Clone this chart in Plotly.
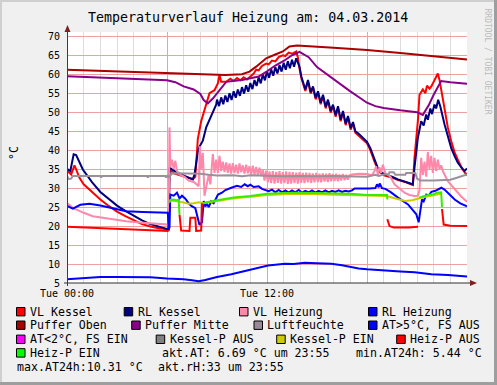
import plotly.graph_objects as go

# ---------------- data (hour of day, value) ----------------
VL_KESSEL = [(0,34.6),(0.25,33.6),(0.45,36.0),(0.75,32.7),(1.0,31.0),(1.5,29.0),(2.0,27.0),(2.5,25.3),(3.0,23.8),(3.5,22.6),(4.0,21.5),(4.5,20.5),(5.0,19.9),(5.5,19.4),(6.1,19.1),
    (6.15,34.8),(6.45,33.8),(7.05,33.0),(7.55,32.4),(7.7,33.0),(7.85,43.0),(8.05,47.6),(8.25,50.6),(8.55,55.0),(8.85,55.8),(9.05,57.6),(9.15,59.8),(9.25,58.0),(9.55,58.0),(9.8,58.8),(10.0,58.2),(10.2,59.0),(10.4,58.4),(10.6,59.2),(10.8,58.6),(11.0,59.4),(11.2,60.2),(11.35,61.2),(11.5,61.0),(11.7,62.2),(11.95,62.8),(12.1,62.6),(12.3,63.6),(12.5,63.4),(12.7,64.5),(12.95,65.0),(13.1,64.8),(13.3,65.7),(13.5,65.4),(13.75,66.0),(13.85,64.5),(13.95,61.5),(14.06,59.0),
    (14.3,55.6),(14.46,58.1),(14.62,54.9),(14.76,56.4),(14.92,53.4),(15.06,55.1),(15.22,52.1),(15.36,54.2),(15.52,51.0),(15.66,52.9),(15.82,49.9),(15.96,51.6),(16.12,48.8),(16.26,51.2),(16.42,47.6),(16.56,49.9),(16.72,46.6),(16.86,48.6),(17.02,45.4),(17.16,47.0),(17.3,44.6),(17.5,43.9),(17.8,42.6),(18.0,41.8),(18.2,40.0),(18.45,37.0),(18.7,34.4),(19.06,33.3),(19.5,32.8),(19.86,32.1),(20.3,31.6),(20.75,30.8),
    (20.85,38.0),(21.05,47.6),(21.15,54.6),(21.35,56.0),(21.5,55.0),(21.6,57.0),(21.75,56.2),(21.86,56.8),(22.0,58.0),(22.15,59.5),(22.25,60.2),(22.35,58.5),(22.45,56.0),(22.65,50.3),(22.85,46.0),(23.05,42.4),(23.25,39.5),(23.45,37.5),(23.7,35.2),(23.95,33.6),(24.0,34.0)]

RL_KESSEL = [(0,35.1),(0.2,34.5),(0.4,38.9),(0.55,38.7),(0.95,34.9),(1.5,31.6),(2.0,29.0),(2.5,27.2),(3.0,25.4),(3.5,24.0),(4.0,22.7),(4.5,21.5),(5.0,20.5),(5.5,19.8),(6.1,19.1),
    (6.15,35.4),(6.45,34.5),(7.05,33.2),(7.55,32.3),(7.65,33.6),(7.85,39.5),(7.96,41.0),(8.15,42.5),(8.35,46.0),(8.65,48.8),(8.95,52.0),
    (9.0,53.3),(9.125,51.6),(9.25,53.9),(9.375,52.1),(9.5,54.4),(9.625,52.7),(9.75,55.0),(9.875,53.2),(10.0,55.5),(10.125,53.8),(10.25,56.0),(10.375,54.3),(10.5,56.6),(10.625,54.9),(10.75,57.1),(10.875,55.4),(11.0,57.7),(11.125,56.1),(11.25,58.5),(11.375,56.9),(11.5,59.2),(11.625,57.6),(11.75,60.0),(11.875,58.4),(12.0,60.8),(12.125,59.1),(12.25,61.3),(12.375,59.6),(12.5,61.9),(12.625,60.2),(12.75,62.4),(12.875,60.7),(13.0,63.0),(13.125,61.2),(13.25,63.4),(13.375,61.6),(13.5,63.8),(13.625,62.0),(13.75,64.2),(13.875,62.8),(13.95,62.0),(14.06,59.4),
    (14.3,56.0),(14.46,58.5),(14.62,55.3),(14.76,56.8),(14.92,53.8),(15.06,55.5),(15.22,52.5),(15.36,54.6),(15.52,51.4),(15.66,53.3),(15.82,50.3),(15.96,52.0),(16.12,49.2),(16.26,51.6),(16.42,48.0),(16.56,50.3),(16.72,47.0),(16.86,49.0),(17.02,45.8),(17.16,47.4),(17.3,45.0),(17.5,44.3),(17.8,43.0),(18.0,42.2),(18.2,40.5),(18.45,37.4),(18.7,34.7),(19.06,33.6),(19.5,33.0),(19.86,32.3),(20.3,31.7),(20.75,31.0),
    (20.85,35.4),(21.05,43.2),(21.25,47.6),(21.4,46.5),(21.55,49.4),(21.65,48.0),(21.8,51.0),(21.9,49.5),(22.05,52.0),(22.15,51.0),(22.27,53.3),(22.4,51.5),(22.65,46.8),(22.85,43.5),(23.05,40.6),(23.25,38.5),(23.45,36.7),(23.65,35.5),(23.85,34.5),(24.0,35.2)]

VL_HEIZUNG = [(0,26.1),(0.35,24.8),(1.0,23.5),(1.55,22.6),(2.55,21.9),(3.55,21.3),(4.55,20.9),(6.1,20.4),(6.15,46.0),(6.2,35.5),(6.3,37.5),(6.4,35.0),(6.5,37.2),(6.6,34.5),(6.75,33.6),(7.05,33.0),(7.3,32.0),(7.65,31.5),(7.9,30.5),(7.97,41.0),(8.05,35.0),(8.15,39.3),(8.25,28.0),(8.35,30.0),(8.5,33.5),(8.6,31.0),(8.75,39.0),(8.85,34.0),(8.95,37.5),
    (9.05,34.0),(9.15,38.5),(9.25,34.5),(9.35,37.0),(9.45,34.2),(9.55,36.8),(9.65,34.0),(9.75,36.5),(9.85,33.8),(9.95,36.6),(10.05,34.0),(10.15,36.2),(10.25,33.8),(10.35,36.5),(10.45,34.2),(10.55,36.0),(10.65,33.8),(10.75,36.2),(10.85,33.9),(10.95,35.8),(11.05,33.6),(11.15,35.9),(11.25,33.5),(11.35,35.6),(11.45,33.4),(11.55,35.4),(11.65,33.2),(11.75,35.0),
    (11.85,32.0),(11.95,34.6),(12.05,31.5),(12.15,34.4),(12.25,31.3),(12.35,34.5),(12.45,31.2),(12.55,34.3),(12.65,31.4),(12.75,34.5),(12.85,31.2),(12.95,34.2),(13.05,31.3),(13.15,34.4),(13.25,31.1),(13.35,34.3),(13.45,31.2),(13.55,34.2),(13.65,31.3),(13.75,34.1),(13.85,31.2),(13.95,34.2),(14.05,31.4),(14.15,34.0),(14.25,31.3),(14.35,34.1),(14.45,31.5),(14.55,34.0),(14.65,31.4),(14.75,33.9),(14.85,31.5),(14.95,34.0),(15.05,31.6),(15.15,33.8),(15.25,31.5),(15.35,33.9),(15.45,31.7),(15.55,33.8),(15.65,31.6),(15.75,33.9),(15.85,31.8),(15.95,33.7),(16.05,31.9),(16.15,33.8),(16.25,31.8),(16.35,33.6),(16.45,32.0),(16.55,33.7),(16.65,32.1),(16.75,33.5),(16.85,32.2),(16.95,33.4),
    (17.1,33.6),(17.5,33.8),(18.0,33.7),(18.3,33.4),(18.45,34.5),(18.55,35.8),(18.65,33.5),(18.75,35.5),(18.85,34.0),(18.95,36.2),(19.1,34.0),(19.4,33.0),(19.65,31.0),(19.95,29.8),(20.25,28.8),(20.55,28.2),(20.85,27.9),(21.05,28.0),(21.15,29.5),(21.25,38.0),(21.35,33.5),(21.45,37.0),(21.55,33.0),(21.65,39.5),(21.75,35.0),(21.85,38.5),(21.95,34.0),(22.05,38.0),(22.15,34.5),(22.25,37.5),(22.35,35.0),(22.45,36.0),(22.55,34.5),(22.85,31.8),(23.1,30.5),(23.35,29.2),(23.65,27.8),(23.95,26.6),(24.0,26.4)]

RL_HEIZUNG = [(0,25.3),(0.35,24.6),(0.8,25.6),(1.35,25.9),(2.0,25.4),(2.55,24.8),(3.0,24.3),(3.55,23.9),(4.55,23.7),(6.05,23.5),(6.1,19.5),(6.15,19.6),(6.2,28.3),(6.4,28.0),(6.6,28.8),(6.75,27.3),(6.9,28.0),(7.1,27.2),(7.3,26.0),(7.46,25.3),(7.7,24.7),(7.85,22.2),(7.95,20.3),(8.1,21.0),(8.2,26.6),(8.3,25.2),(8.4,25.8),(8.5,25.0),(8.65,26.5),(8.8,26.0),(9.06,28.3),(9.3,28.8),(9.5,29.5),(9.86,30.1),(10.2,30.6),(10.45,30.3),(10.66,31.0),(10.85,30.5),(11.0,30.9),(11.2,30.3),(11.5,30.5),(11.7,29.8),(11.86,29.6),
    (12.1,29.2),(12.3,29.6),(12.5,28.9),(12.7,29.5),(12.9,28.9),(13.1,29.4),(13.3,28.8),(13.5,29.4),(13.7,28.9),(13.9,29.5),(14.1,28.8),(14.3,29.3),(14.5,28.9),(14.7,29.4),(14.9,28.8),(15.1,29.3),(15.3,28.9),(15.5,29.4),(15.7,28.9),(15.9,29.3),(16.1,29.0),(16.3,29.4),(16.5,29.0),(16.7,29.3),(16.9,29.1),(17.1,29.4),(17.26,29.9),(18.16,29.9),(18.5,30.0),(18.6,31.0),(18.7,30.2),(18.76,31.2),(18.9,30.0),(19.1,29.8),(19.4,29.0),(19.86,27.5),(20.46,25.7),(20.96,23.1),(21.1,21.0),(21.2,24.0),(21.3,27.0),(21.4,26.5),(21.56,28.3),(21.7,28.0),(21.86,29.0),(22.1,29.3),(22.46,30.1),(22.65,29.6),(23.0,28.0),(23.26,27.0),(23.6,26.0),(23.96,25.3),(24.0,25.2)]

PUFFER_OBEN = [(0,61.2),(3,60.7),(6,60.2),(8,59.9),(9.5,59.8),(10.5,60.0),(10.95,60.7),(11.35,62.0),(11.95,64.2),(12.5,65.2),(12.95,66.0),(13.35,67.3),(13.8,67.6),(16,67.0),(18,66.4),(20,65.6),(22,64.8),(24,63.9)]

PUFFER_MITTE = [(0,59.5),(3,59.0),(6,58.4),(6.5,57.9),(7.0,56.8),(7.6,56.0),(8.0,54.8),(8.2,53.2),(8.45,52.3),(8.75,53.6),(9.15,55.9),(9.55,58.0),(10.5,58.5),(11.5,59.4),(12.0,60.8),(12.5,62.3),(13.0,63.5),(13.5,65.0),(13.95,65.9),(14.5,64.5),(15.0,61.9),(15.5,60.3),(16.0,58.5),(16.5,57.0),(17.0,55.5),(17.5,54.0),(18.0,52.5),(18.5,51.6),(19.0,51.1),(20.0,50.5),(21.0,50.0),(21.35,49.3),(21.7,51.8),(22.0,54.6),(22.45,58.2),(23.0,57.9),(24,57.5)]

LUFTFEUCHTE = [(0,33.2),(0.1,32.4),(0.25,32.5),(0.35,33.2),(2.0,33.2),(2.05,32.8),(2.1,33.2),(4.8,33.2),(4.85,32.8),(4.9,33.2),(5.9,33.2),(5.95,32.8),(6.0,33.2),(6.15,33.0),(6.3,33.9),(7.0,33.9),(7.5,33.8),(8.0,33.8),(8.5,33.5),(9.0,33.3),(10.0,33.4),(10.5,33.1),(11.0,33.4),(12.0,33.2),(13.0,33.1),(14.0,33.2),(15.0,33.1),(16.0,33.2),(17.0,33.1),(18.0,33.0),(18.5,33.5),(18.7,33.2),(19.0,33.6),(19.3,33.6),(19.35,34.2),(19.6,34.2),(19.7,33.5),(20.3,33.5),(20.35,34.0),(20.9,34.0),(21.0,32.5),(21.2,32.0),(22.0,32.0),(23.0,32.2),(23.3,32.6),(23.6,33.0),(24.0,33.6)]

AT_GT5 = [(0,6.0),(1,6.4),(2,6.6),(3,6.6),(4,6.6),(5,6.5),(6,6.2),(7,6.0),(7.5,5.7),(7.9,5.44),(8.3,5.8),(9.0,6.6),(9.86,7.3),(10.5,8.0),(11.06,8.6),(11.5,9.1),(12.06,9.6),(12.5,9.8),(13.06,10.1),(13.6,10.0),(14.26,10.31),(15.0,10.2),(15.86,10.1),(16.5,9.7),(17.06,9.2),(17.5,8.8),(18.0,8.6),(19.06,8.2),(20.0,8.0),(20.86,7.8),(21.86,7.3),(22.86,7.1),(23.5,6.8),(24.0,6.69)]

AT_LT2 = []
KESSEL_P_AUS = []

KESSEL_P_EIN = [(6.12,26.4),(6.3,26.7),(6.7,26.5),(7.0,26.2),(7.3,25.9),(7.6,26.0),(7.9,26.3),(8.2,26.0),(9.0,26.6),(10.0,27.3),(11.0,27.7),(12.0,28.2),(13.0,28.4),(14.0,28.5),(15.0,28.4),(16.0,28.3),(17.0,28.2),(18.0,28.0),(19.2,27.9),(19.6,27.4),(20.0,26.9),(20.3,26.6),(20.7,26.8),(21.1,27.3),(21.5,27.7),(22.0,28.1),(22.45,28.6)]

HEIZ_P_AUS = [(0,19.8),(1,19.6),(2,19.4),(3,19.2),(4,19.0),(5,18.9),(6.1,18.7),(6.12,None),(6.75,23.0),(6.85,18.8),(7.35,18.7),(7.4,22.2),(7.7,22.2),(7.75,18.7),(8.05,18.8),(8.1,26.0),(8.12,None),(19.22,21.8),(19.35,20.0),(19.6,19.6),(20.5,19.6),(21.06,19.8),(21.1,None),(22.5,24.5),(22.6,20.4),(23.0,20.1),(24.0,20.0)]

HEIZ_P_EIN = [(6.12,26.2),(6.2,26.9),(6.4,27.0),(6.55,26.8),(6.7,26.9),(6.75,23.0),(6.8,None),(8.15,26.0),(8.3,26.2),(9.0,26.8),(10.0,27.5),(11.0,27.9),(12.0,28.5),(13.0,28.7),(14.0,28.8),(15.0,28.7),(16.0,28.6),(17.0,28.5),(18.0,28.2),(19.2,28.2),(19.22,27.0),(19.25,None),(21.12,27.5),(21.3,27.8),(21.5,28.0),(21.8,28.3),(22.0,28.4),(22.2,28.8),(22.45,28.9),(22.5,25.0)]

SERIES = [
    ("VL Kessel", VL_KESSEL, "#FF0000"),
    ("RL Kessel", RL_KESSEL, "#000080"),
    ("VL Heizung", VL_HEIZUNG, "#FF88AA"),
    ("RL Heizung", RL_HEIZUNG, "#0000FF"),
    ("Puffer Oben", PUFFER_OBEN, "#AA0000"),
    ("Puffer Mitte", PUFFER_MITTE, "#880088"),
    ("Luftfeuchte", LUFTFEUCHTE, "#999099"),
    ("AT>5°C, FS AUS", AT_GT5, "#0000FF"),
    ("AT<2°C, FS EIN", AT_LT2, "#FF00FF"),
    ("Kessel-P AUS", KESSEL_P_AUS, "#808080"),
    ("Kessel-P EIN", KESSEL_P_EIN, "#CCCC00"),
    ("Heiz-P AUS", HEIZ_P_AUS, "#FF0000"),
    ("Heiz-P EIN", HEIZ_P_EIN, "#33EE00"),
]
LEGEND_SWATCH = {"Luftfeuchte": "#998899", "Heiz-P EIN": "#00FF00"}

TITLE = "Temperaturverlauf Heizung am: 04.03.2014"
X_TICKS = [0, 6, 12, 18, 24]
X_TICKTEXT = ["Tue 00:00", "", "Tue 12:00", "", ""]
INFO_TEXTS = ["akt.AT: 6.69 °C um 23:55", "min.AT24h: 5.44 °C", "max.AT24h:10.31 °C", "akt.rH:33 um 23:55"]

# ---------------- layout geometry ----------------
W, H = 497, 385
L, R, T, B = 67, 30, 32, 102
PW, PH = W - L - R, H - T - B
YMIN = 5
YMAX = 70 + (36.3 - 32) / 3.795

def px(x):
    return (x - L) / PW

def py(y):
    return (H - B - y) / PH

FONT = "DejaVu Sans Mono"

fig = go.Figure()
for name, data, color in SERIES:
    xs = [p[0] for p in data]
    ys = [p[1] for p in data]
    fig.add_trace(go.Scatter(x=xs, y=ys, mode="lines", name=name,
                             line=dict(color=color, width=2), showlegend=False,
                             hoverinfo="skip"))

shapes = []
annotations = []

# frame (3D look)
shapes.append(dict(type="line", xref="paper", yref="paper", x0=px(0), x1=px(W), y0=py(1), y1=py(1), line=dict(color="#CFCFCF", width=2)))
shapes.append(dict(type="line", xref="paper", yref="paper", x0=px(1), x1=px(1), y0=py(0), y1=py(H), line=dict(color="#CFCFCF", width=2)))
shapes.append(dict(type="line", xref="paper", yref="paper", x0=px(0), x1=px(W), y0=py(H - 1.5), y1=py(H - 1.5), line=dict(color="#9E9E9E", width=3)))
shapes.append(dict(type="line", xref="paper", yref="paper", x0=px(W - 1.5), x1=px(W - 1.5), y0=py(0), y1=py(H), line=dict(color="#9E9E9E", width=3)))

# axes with arrows
AX = "#7F2020"
shapes.append(dict(type="line", xref="paper", yref="paper", x0=px(64), x1=px(472), y0=py(283), y1=py(283), line=dict(color="#303030", width=1)))
shapes.append(dict(type="line", xref="paper", yref="paper", x0=px(67.5), x1=px(67.5), y0=py(286), y1=py(30), line=dict(color=AX, width=1)))
shapes.append(dict(type="path", xref="paper", yref="paper",
                   path=f"M {px(470)} {py(280)} L {px(477)} {py(283)} L {px(470)} {py(286)} Z",
                   fillcolor=AX, line=dict(color=AX, width=0)))
shapes.append(dict(type="path", xref="paper", yref="paper",
                   path=f"M {px(64.5)} {py(32)} L {px(67.5)} {py(25)} L {px(70.5)} {py(32)} Z",
                   fillcolor=AX, line=dict(color=AX, width=0)))

# title, unit, watermark
annotations.append(dict(text=TITLE, x=px(248), y=py(17), xref="paper", yref="paper", showarrow=False,
                        font=dict(family=FONT, size=13.3, color="#000000"), xanchor="center", yanchor="middle"))
annotations.append(dict(text="°C", x=px(14), y=py(153), xref="paper", yref="paper", showarrow=False, textangle=-90,
                        font=dict(family=FONT, size=11.5, color="#000000"), xanchor="center", yanchor="middle"))
annotations.append(dict(text="RRDTOOL / TOBI OETIKER", x=px(487.5), y=py(61), xref="paper", yref="paper", showarrow=False, textangle=90,
                        font=dict(family=FONT, size=8, color="#BBBBBB"), xanchor="center", yanchor="middle",
                        borderpad=0, borderwidth=0))

# legend (RRDtool style)
ROWS = [311.7, 325.2, 339.3, 352.9, 367.3]
LEG_POS = [
    ("VL Kessel", 16.5, 0), ("RL Kessel", 124.2, 0), ("VL Heizung", 239.5, 0), ("RL Heizung", 368.5, 0),
    ("Puffer Oben", 16.5, 1), ("Puffer Mitte", 131.7, 1), ("Luftfeuchte", 254.0, 1), ("AT>5°C, FS AUS", 368.5, 1),
    ("AT<2°C, FS EIN", 16.5, 2), ("Kessel-P AUS", 156.2, 2), ("Kessel-P EIN", 276.7, 2), ("Heiz-P AUS", 396.7, 2),
    ("Heiz-P EIN", 16.5, 3),
]
colors = {n: c for n, _, c in SERIES}
colors.update(LEGEND_SWATCH)
LF = 11.6
for name, sx, row in LEG_POS:
    yc = ROWS[row]
    shapes.append(dict(type="rect", xref="paper", yref="paper", x0=px(sx), x1=px(sx + 8.5), y0=py(yc + 4.2), y1=py(yc - 4.2),
                       fillcolor=colors[name], line=dict(color="#000000", width=1)))
    annotations.append(dict(text=name, x=px(sx + 13.3), y=py(yc), xref="paper", yref="paper", showarrow=False,
                            font=dict(family=FONT, size=LF, color="#000000"), xanchor="left", yanchor="middle", borderpad=0, borderwidth=0))
INFO_POS = [(161.7, 3), (355.7, 3), (16.7, 4), (158.3, 4)]
for txt, (ix, row) in zip(INFO_TEXTS, INFO_POS):
    annotations.append(dict(text=txt, x=px(ix), y=py(ROWS[row]), xref="paper", yref="paper", showarrow=False,
                            font=dict(family=FONT, size=LF, color="#000000"), xanchor="left", yanchor="middle", borderpad=0, borderwidth=0))

fig.update_layout(
    width=W, height=H, margin=dict(l=L, r=R, t=T, b=B, pad=0),
    paper_bgcolor="#F0F0F0", plot_bgcolor="#FFFFFF",
    font=dict(family=FONT, size=10, color="#000000"),
    showlegend=False, hovermode=False,
    shapes=shapes, annotations=annotations,
    xaxis=dict(range=[0, 24], tickmode="array", tickvals=X_TICKS, ticktext=X_TICKTEXT, automargin=False,
               showgrid=True, gridcolor="#EDA0A0", gridwidth=1, zeroline=False, showline=False,
               ticks="", tickfont=dict(family=FONT, size=10), ticklabelstandoff=3,
               minor=dict(tick0=0, dtick=1, showgrid=True, gridcolor="#DCDCDC", gridwidth=1, ticks="")),
    yaxis=dict(range=[YMIN, YMAX], tick0=5, dtick=5, showgrid=True, gridcolor="#EDA0A0", gridwidth=1, automargin=False,
               zeroline=False, showline=False, ticks="", tickfont=dict(family=FONT, size=10),
               ticklabelstandoff=6),
)

fig.write_html("out.html", config={"displayModeBar": False},
               post_script="document.body.style.margin='0px';document.body.style.padding='0px';document.body.style.overflow='hidden';")
